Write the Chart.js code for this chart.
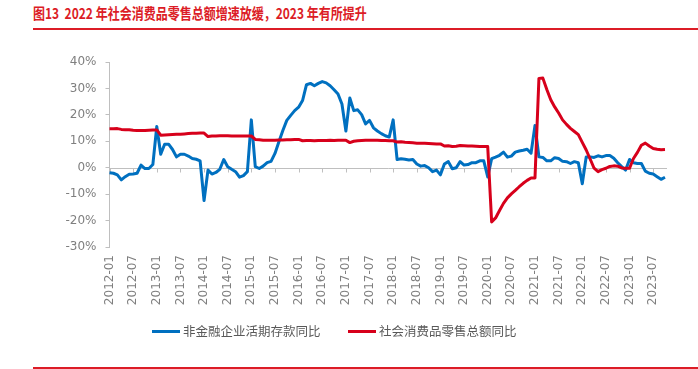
<!DOCTYPE html>
<html>
<head>
<meta charset="utf-8">
<script src="https://cdn.jsdelivr.net/npm/chart.js@4.4.0/dist/chart.umd.min.js"></script>
<style>
  html, body { margin: 0; padding: 0; background: #fff; }
  #wrap { position: relative; width: 698px; height: 369px; overflow: hidden; }
  #title { position: absolute; left: 33px; top: 2px; font: bold 15px "Noto Sans CJK SC"; color: #dc1c26;
           white-space: nowrap; transform: scaleX(0.8); transform-origin: 0 0; }
  .rule { position: absolute; left: 33px; right: 0; height: 2px; background: #dc1c26; }
  .legend { position: absolute; top: 322px; font: 12.5px "Noto Sans CJK SC"; color: #595959; white-space: nowrap; line-height: 18px; }
  .legend i { display: inline-block; width: 28px; height: 3px; vertical-align: middle; margin-right: 3px; position: relative; top: -1px; }
  canvas { position: absolute; left: 0; top: 0; }
</style>
</head>
<body>
<div id="wrap">
  <div id="title">图13&nbsp;&nbsp;2022 年社会消费品零售总额增速放缓，2023 年有所提升</div>
  <div class="rule" style="top:28px"></div>
  <canvas id="mixed-chart" width="698" height="369"></canvas>
  <div class="legend" style="left:152px"><i style="background:#0070c0"></i>非金融企业活期存款同比</div>
  <div class="legend" style="left:348px"><i style="background:#d7001b"></i>社会消费品零售总额同比</div>
  <div class="rule" style="top:367px"></div>
</div>
<script>
// monthly, 2012-01 .. 2023-10
const startYear = 2012;
const monthCount = 142;

// 非金融企业活期存款同比 (%)
const demandDeposit = [
  -1.9, -2.1, -2.7, -4.6, -3.4, -2.5, -2.4, -2.1, 1.0, -0.3, -0.3, 1.2,
  15.6, 5.1, 8.9, 8.9, 6.9, 4.1, 5.1, 5.1, 4.4, 3.5, 3.2, 2.6,
  -12.4, -0.9, -2.4, -1.8, -0.6, 3.1, 0.4, -0.6, -1.5, -3.6, -3.0, -1.5,
  18.1, 0.4, -0.3, 0.6, 1.9, 2.4, 5.4, 9.8, 14.1, 17.9, 19.8, 21.6,
  22.9, 25.4, 31.4, 31.9, 31.0, 31.9, 32.6, 32.1, 31.0, 29.5, 27.9, 24.1,
  13.9, 26.4, 21.6, 21.9, 20.1, 16.6, 17.9, 15.1, 13.9, 12.9, 12.1, 11.6,
  18.1, 3.1, 3.4, 3.2, 2.9, 3.1, 1.4, 0.6, 0.8, 0.0, -1.5, -0.9,
  -2.7, 1.4, 2.3, -0.4, 0.0, 2.3, 1.0, 1.2, 1.9, 1.9, 2.6, 2.6,
  -3.5, 3.4, 4.0, 4.7, 5.9, 4.0, 4.4, 5.9, 6.3, 6.6, 7.0, 5.5,
  16.0, 4.1, 3.9, 2.6, 2.6, 3.8, 3.5, 2.4, 2.3, 1.6, 2.3, 1.9,
  -6.1, 4.1, 4.1, 3.9, 4.5, 4.1, 4.6, 4.6, 3.6, 1.9, 0.4, -0.9,
  3.1, 1.9, 1.6, 1.6, -1.3, -2.1, -2.4, -3.4, -4.4, -3.6
];

// 社会消费品零售总额同比 (%)
const retailSales = [
  14.7, 14.7, 14.8, 14.5, 14.4, 14.4, 14.2, 14.1, 14.1, 14.1, 14.2, 14.3,
  14.3, 12.3, 12.4, 12.5, 12.6, 12.7, 12.7, 12.8, 12.9, 13.0, 13.0, 13.1,
  13.1, 11.8, 12.0, 12.0, 12.1, 12.1, 12.1, 12.0, 12.0, 12.0, 12.0, 12.0,
  12.0, 10.7, 10.6, 10.4, 10.4, 10.4, 10.4, 10.5, 10.5, 10.6, 10.6, 10.7,
  10.7, 10.2, 10.3, 10.3, 10.2, 10.3, 10.3, 10.3, 10.4, 10.3, 10.4, 10.4,
  10.4, 9.5, 10.0, 10.2, 10.3, 10.4, 10.4, 10.4, 10.4, 10.3, 10.3, 10.2,
  10.2, 9.7, 9.8, 9.6, 9.5, 9.4, 9.3, 9.3, 9.3, 9.2, 9.1, 9.0,
  9.0, 8.2, 8.3, 8.0, 8.1, 8.4, 8.3, 8.2, 8.2, 8.1, 8.0, 8.0,
  8.0, -20.5, -19.0, -16.2, -13.5, -11.4, -9.9, -8.6, -7.2, -5.9, -4.8, -3.9,
  -3.9, 33.8, 33.9, 29.6, 25.7, 23.0, 20.7, 18.1, 16.4, 14.9, 13.7, 12.5,
  9.6, 6.7, 3.3, -0.2, -1.5, -0.7, -0.2, 0.5, 0.7, 0.6, -0.1, -0.2,
  -0.2, 3.5, 5.8, 8.5, 9.3, 8.2, 7.3, 7.0, 6.8, 6.9
];

const months = [];
for (let i = 0; i < monthCount; i++) {
  const y = startYear + Math.floor(i / 12);
  const m = (i % 12) + 1;
  months.push(y + '-' + (m < 10 ? '0' + m : m));
}

const axisGray = '#bfbfbf';
const labelGray = '#7f7f7f';

// horizontal axis sits on 0%, labels stay at the bottom
const zeroLine = {
  id: 'zeroLine',
  beforeDatasetsDraw(chart) {
    const { ctx, chartArea, scales } = chart;
    const y0 = Math.round(scales.y.getPixelForValue(0)) + 0.5;
    ctx.save();
    ctx.strokeStyle = axisGray;
    ctx.lineWidth = 1;
    ctx.beginPath();
    ctx.moveTo(chartArea.left, y0);
    ctx.lineTo(chartArea.right + 2, y0);
    months.forEach((m, i) => {
      if (i % 6 === 0) {
        const px = Math.round(scales.x.getPixelForValue(i)) + 0.5;
        ctx.moveTo(px, y0);
        ctx.lineTo(px, y0 + 4);
      }
    });
    ctx.stroke();
    ctx.restore();
  }
};

const ctx = document.getElementById('mixed-chart').getContext('2d');
const myChart = new Chart(ctx, {
  type: 'line',
  data: {
    labels: months,
    datasets: [{
      label: '非金融企业活期存款同比',
      data: demandDeposit,
      borderColor: '#0070c0',
      borderWidth: 3,
      pointRadius: 0,
      fill: false,
      order: 2
    }, {
      label: '社会消费品零售总额同比',
      data: retailSales,
      borderColor: '#d7001b',
      borderWidth: 3,
      pointRadius: 0,
      fill: false,
      order: 1
    }]
  },
  options: {
    responsive: false,
    animation: false,
    layout: { padding: { left: 0, top: 62, right: 33, bottom: 60 } },
    plugins: { legend: { display: false }, tooltip: { enabled: false } },
    elements: { line: { tension: 0, borderJoinStyle: 'round' } },
    scales: {
      x: {
        grid: { display: false, drawTicks: false },
        border: { display: false },
        afterFit(s) { s.height = 62; },
        ticks: {
          autoSkip: false,
          maxRotation: 90,
          minRotation: 90,
          padding: 8,
          color: labelGray,
          font: { family: 'DejaVu Sans', size: 12 },
          callback(val, idx) { return idx % 6 === 0 ? months[idx] : ''; }
        }
      },
      y: {
        min: -30,
        max: 40,
        afterFit(s) { s.width = 109.5; },
        grid: { drawOnChartArea: false, drawTicks: true, tickLength: 4, color: axisGray },
        border: { display: true, color: axisGray },
        ticks: {
          stepSize: 10,
          padding: 9,
          color: labelGray,
          font: { family: 'DejaVu Sans', size: 12 },
          callback(v) { return v + '%'; }
        }
      }
    }
  },
  plugins: [zeroLine]
});
</script>
</body>
</html>
